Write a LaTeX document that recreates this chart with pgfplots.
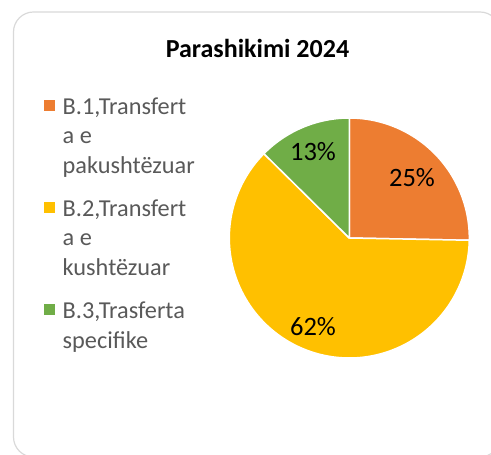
\documentclass[border=0pt]{standalone}
\usepackage{fontspec}
\setmainfont{Carlito}
\usepackage{pgfplots}
\pgfplotsset{compat=1.18}
\definecolor{corange}{HTML}{ED7D31}
\definecolor{cyellow}{HTML}{FFC000}
\definecolor{cgreen}{HTML}{70AD47}
\definecolor{cgray}{HTML}{595959}
\definecolor{cframe}{HTML}{D9D9D9}
\begin{document}
\begin{tikzpicture}
\begin{axis}[
  x=1pt, y=1pt, scale only axis,
  xmin=0, xmax=491, ymin=0, ymax=455,
  hide axis, clip=false,
  legend cell align=left,
  legend style={at={(axis cs:43,360.5)}, anchor=north west, draw=none, fill=none,
    inner sep=0pt, font=\fontsize{24.3}{29.5}\selectfont, text=cgray,
    cells={anchor=north west, align=left, inner sep=0pt, text depth=0pt},
    row sep=20pt, column sep=5pt},
  legend image code/.code={\path (0pt,0pt) (11pt,0pt); \fill[#1, draw=none] (0pt,-15.3pt) rectangle (11pt,-4.3pt);},
]
\draw[cframe, line width=1.2pt, rounded corners=20pt] (axis cs:13.5,-2) rectangle (axis cs:500,443);
% values: 25.3%, 62.1%, 12.6%  (start at 90 deg, clockwise)
\addplot[fill=corange, draw=white, line width=1.5pt, line join=round, domain=-1.08:90, samples=90, variable=\t]
  ({349.3+120*cos(t)}, {217+120*sin(t)}) -- (axis cs:349.3,217) -- cycle;
\addlegendentry{B.1,Transfert\\a e\\pakushtëzuar}
\addplot[fill=cyellow, draw=white, line width=1.5pt, line join=round, domain=-224.64:-1.08, samples=180, variable=\t]
  ({349.3+120*cos(t)}, {217+120*sin(t)}) -- (axis cs:349.3,217) -- cycle;
\addlegendentry{B.2,Transfert\\a e\\kushtëzuar}
\addplot[fill=cgreen, draw=white, line width=1.5pt, line join=round, domain=90:135.36, samples=50, variable=\t]
  ({349.3+120*cos(t)}, {217+120*sin(t)}) -- (axis cs:349.3,217) -- cycle;
\addlegendentry{B.3,Trasferta\\specifike}
\node[font=\fontsize{26}{30}\selectfont\bfseries, anchor=base, inner sep=0pt] at (axis cs:257.5,397.7) {Parashikimi 2024};
\node[font=\fontsize{26.5}{30}\selectfont, inner sep=0pt] at (axis cs:412,277) {25\%};
\node[font=\fontsize{26.5}{30}\selectfont, inner sep=0pt] at (axis cs:313,303) {13\%};
\node[font=\fontsize{26.5}{30}\selectfont, inner sep=0pt] at (axis cs:313,128) {62\%};
\end{axis}
\pgfresetboundingbox
\path[use as bounding box] (0,0) rectangle (491pt,455pt);
\end{tikzpicture}
\end{document}
